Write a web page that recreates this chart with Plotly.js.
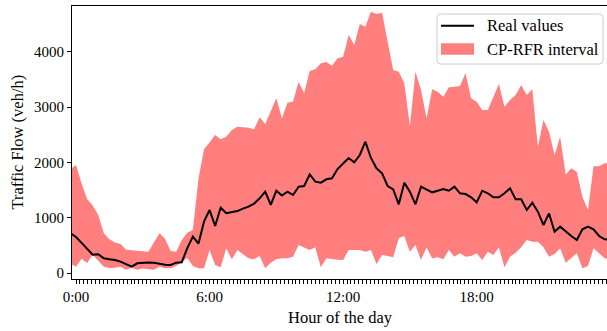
<!DOCTYPE html>
<html><head><meta charset="utf-8">
<script src="https://cdn.plot.ly/plotly-3.0.1.min.js"></script>
<style>html,body{margin:0;padding:0;background:#fff}#chart{width:607px;height:331px}</style>
</head><body><div id="chart"></div>
<script>
// 15-minute samples, first one at 23:45 of the previous day (-0.25 h), last at 24:00
const START_HOUR = -0.25;
const STEP_HOURS = 0.25;

const realValues = [720,650,545,430,330,340,265,247,235,205,165,115,175,187,190,187,165,150,145,187,
  195,450,657,530,928,1140,850,1180,1080,1100,1120,1165,1200,1255,1350,1470,1230,1488,1400,1470,
  1410,1561,1573,1784,1651,1633,1694,1712,1880,1980,2080,2000,2134,2374,2080,1893,1803,1573,1513,1242,
  1633,1470,1242,1561,1513,1459,1488,1519,1488,1561,1441,1428,1369,1278,1488,1441,1369,1369,1441,1531,
  1332,1332,1139,1271,1109,868,1079,747,838,747,669,597,790,838,790,669,609,600];

const upperBound = [1880,1953,1620,1340,1220,1050,720,610,550,525,420,416,405,395,385,560,720,620,400,385,
  597,729,778,1700,2237,2360,2495,2418,2465,2586,2646,2634,2628,2598,2815,2694,2917,3159,2797,3080,
  3098,3459,3250,3653,3683,3792,3816,3749,3882,3912,4304,4123,4503,4454,4725,4684,4707,4200,3671,3640,
  3430,2658,3640,3309,2797,3322,3279,3189,3358,3370,3382,3611,3159,3098,2948,2948,3189,3418,3007,3128,
  3219,3400,3219,3322,2284,2767,2555,2134,2465,1780,1893,1832,1380,1139,1930,1929,1983,1990];

const lowerBound = [170,114,256,180,330,220,115,90,95,115,60,95,60,80,75,60,114,87,85,125,
  200,270,127,84,84,416,145,103,446,247,416,344,265,247,307,84,187,247,265,265,
  295,506,464,416,464,103,265,247,240,235,416,416,416,385,416,163,325,307,283,627,
  669,385,506,235,464,265,283,247,416,295,356,295,307,356,235,385,325,464,103,295,
  368,464,597,566,566,464,295,344,446,187,265,356,84,127,446,356,265,250];

const hours = realValues.map((_, i) => START_HOUR + i * STEP_HOURS);

const labelHours = [0, 6, 12, 18];
const labelText = ['0:00', '6:00', '12:00', '18:00'];
const TICKS_PER_LABEL = 34;   // small tick marks between two labelled hours

const seriesNames = ['Real values', 'CP-RFR interval'];
const xTitle = 'Hour of the day';
const yTitle = 'Traffic Flow (veh/h)';

const FONT = 'Liberation Serif, Times New Roman, serif';
const BAND = 'rgba(255,0,0,0.5)';

const W = 607, H = 331;
const M = {l: 72, r: 0, t: 6, b: 52};
const PW = W - M.l - M.r, PH = H - M.t - M.b;
const X_RANGE = [-0.18, 23.855];
const Y_RANGE = [-108.5, 4828];
const px = x => (x - M.l) / PW;
const py = y => (H - M.b - y) / PH;

const tickVals = [], tickText = [];
for (let j = 0; j * 6 / TICKS_PER_LABEL <= X_RANGE[1]; j++) {
  tickVals.push(j * 6 / TICKS_PER_LABEL);
  const li = (j % TICKS_PER_LABEL === 0) ? labelHours.indexOf(j / TICKS_PER_LABEL * 6) : -1;
  tickText.push(li >= 0 ? labelText[li] : '');
}

const traces = [
  {x: hours, y: lowerBound, mode: 'lines', line: {width: 0, color: 'rgba(0,0,0,0)'},
   showlegend: false, hoverinfo: 'skip'},
  {x: hours, y: upperBound, mode: 'lines', fill: 'tonexty', fillcolor: BAND,
   line: {width: 0, color: 'rgba(0,0,0,0)'}, showlegend: false, name: seriesNames[1]},
  {x: hours, y: realValues, mode: 'lines', line: {color: 'black', width: 2},
   showlegend: false, name: seriesNames[0]}
];

// manual legend (rounded box like matplotlib)
function roundRect(x0, y0, x1, y1, r) {
  const X = v => px(v), Y = v => py(v);
  return `M${X(x0 + r)},${Y(y0)} L${X(x1 - r)},${Y(y0)} Q${X(x1)},${Y(y0)} ${X(x1)},${Y(y0 + r)} ` +
    `L${X(x1)},${Y(y1 - r)} Q${X(x1)},${Y(y1)} ${X(x1 - r)},${Y(y1)} L${X(x0 + r)},${Y(y1)} ` +
    `Q${X(x0)},${Y(y1)} ${X(x0)},${Y(y1 - r)} L${X(x0)},${Y(y0 + r)} Q${X(x0)},${Y(y0)} ${X(x0 + r)},${Y(y0)} Z`;
}
const LG = {x0: 437, x1: 603, y0: 14, y1: 64, symX0: 441, symX1: 474, textX: 486, row1: 25.7, row2: 49};
const shapes = [
  {type: 'path', xref: 'paper', yref: 'paper', path: roundRect(LG.x0, LG.y0, LG.x1, LG.y1, 3.5),
   fillcolor: 'rgba(255,255,255,0.8)', line: {color: '#cccccc', width: 1}},
  {type: 'line', xref: 'paper', yref: 'paper', x0: px(LG.symX0), x1: px(LG.symX1),
   y0: py(LG.row1), y1: py(LG.row1), line: {color: 'black', width: 2}},
  {type: 'rect', xref: 'paper', yref: 'paper', x0: px(LG.symX0), x1: px(LG.symX1),
   y0: py(LG.row2 - 5.8), y1: py(LG.row2 + 5.8), fillcolor: BAND, line: {width: 0}}
];
const annotations = [
  {xref: 'paper', yref: 'paper', x: px(LG.textX), y: py(LG.row1), xanchor: 'left', yanchor: 'middle',
   text: seriesNames[0], showarrow: false, font: {family: FONT, size: 16.5, color: 'black'}, borderpad: 0},
  {xref: 'paper', yref: 'paper', x: px(LG.textX), y: py(LG.row2), xanchor: 'left', yanchor: 'middle',
   text: seriesNames[1], showarrow: false, font: {family: FONT, size: 16.5, color: 'black'}, borderpad: 0},
  // axis titles
  {xref: 'paper', yref: 'paper', x: px(340.5), y: py(317), xanchor: 'center', yanchor: 'middle',
   text: xTitle, showarrow: false, font: {family: FONT, size: 16.5, color: 'black'}, borderpad: 0},
  {xref: 'paper', yref: 'paper', x: px(17), y: py(142.5), xanchor: 'center', yanchor: 'middle', textangle: -90,
   text: yTitle, showarrow: false, font: {family: FONT, size: 16.5, color: 'black'}, borderpad: 0}
];

const layout = {
  width: W, height: H, margin: M,
  paper_bgcolor: 'white', plot_bgcolor: 'white',
  font: {family: FONT, size: 15, color: 'black'},
  showlegend: false,
  xaxis: {
    range: X_RANGE, showline: true, linecolor: 'black', linewidth: 1, mirror: true,
    ticks: 'outside', ticklen: 3.5, tickwidth: 1, tickcolor: 'black',
    tickmode: 'array', tickvals: tickVals, ticktext: tickText,
    showgrid: false, zeroline: false, automargin: false,
    tickfont: {family: FONT, size: 15, color: 'black'}
  },
  yaxis: {
    range: Y_RANGE, showline: true, linecolor: 'black', linewidth: 1, mirror: false,
    ticks: 'outside', ticklen: 4, tickwidth: 1, tickcolor: 'black',
    tickmode: 'linear', tick0: 0, dtick: 1000,
    showgrid: false, zeroline: false, automargin: false,
    tickfont: {family: FONT, size: 15, color: 'black'}
  },
  shapes: shapes,
  annotations: annotations
};

Plotly.newPlot('chart', traces, layout, {displayModeBar: false});
</script>
</body></html>
